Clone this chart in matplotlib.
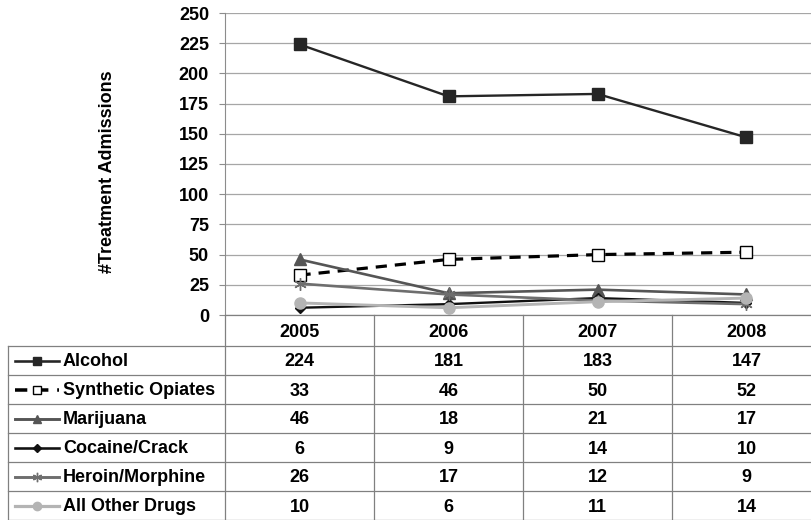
import matplotlib
matplotlib.use("Agg")
import matplotlib.pyplot as plt

plt.rcParams['font.family'] = ['Liberation Sans', 'DejaVu Sans']

years = ["2005", "2006", "2007", "2008"]
drugs = ["Alcohol", "Synthetic Opiates", "Marijuana", "Cocaine/Crack",
         "Heroin/Morphine", "All Other Drugs"]
alcohol = [224, 181, 183, 147]
synthetic = [33, 46, 50, 52]
marijuana = [46, 18, 21, 17]
cocaine = [6, 9, 14, 10]
heroin = [26, 17, 12, 9]
other = [10, 6, 11, 14]
series = [alcohol, synthetic, marijuana, cocaine, heroin, other]

# style per series: line color, linestyle, width, marker, size, face, edge
styles = [
    dict(color='#262626', ls='-', lw=1.7, marker='s', ms=8, mfc='#262626', mec='#262626'),
    dict(color='#000000', ls=(0, (3.5, 2.5)), lw=2.3, marker='s', ms=8.5, mfc='white', mec='black'),
    dict(color='#555555', ls='-', lw=1.9, marker='^', ms=8, mfc='#555555', mec='#555555'),
    dict(color='#111111', ls='-', lw=1.7, marker='D', ms=5.5, mfc='#111111', mec='#111111'),
    dict(color='#6e6e6e', ls='-', lw=1.9, marker=(6, 2, 0), ms=9, mfc='#6e6e6e', mec='#6e6e6e'),
    dict(color='#b4b4b4', ls='-', lw=2.1, marker='o', ms=8, mfc='#b4b4b4', mec='#b4b4b4'),
]

FS = 13
W, H = 811, 520
def box(x0, y0, x1, y1):
    return [x0 / W, 1 - y1 / H, (x1 - x0) / W, (y1 - y0) / H]

fig = plt.figure(figsize=(W / 100, H / 100), dpi=100)

# --- chart
ax = fig.add_axes(box(225, 13, 821, 315))
xs = range(len(years))
for vals, st in zip(series, styles):
    ax.plot(xs, vals, color=st['color'], linestyle=st['ls'], linewidth=st['lw'],
            marker=st['marker'], markersize=st['ms'], markerfacecolor=st['mfc'],
            markeredgecolor=st['mec'], markeredgewidth=1.0, clip_on=False, zorder=3)
ax.set_xlim(-0.5, 3.5)
ax.set_ylim(0, 250)
ax.set_yticks(range(0, 251, 25))
ax.set_xticks([])
ax.grid(axis='y', color='#a6a6a6', linewidth=0.9)
ax.set_axisbelow(True)
for s in ['top', 'right', 'bottom']:
    ax.spines[s].set_visible(False)
ax.spines['left'].set_color('#8c8c8c')
ax.tick_params(axis='y', length=4.5, color='#8c8c8c', pad=7, labelsize=FS)
for lab in ax.get_yticklabels():
    lab.set_fontweight('bold')
fig.text(108 / W, 1 - 172 / H, "#Treatment Admissions", rotation=90,
         ha='center', va='center', fontsize=FS, fontweight='bold')

# --- data table (pixel coordinates)
tax = fig.add_axes(box(0, 315, 821, 520))
tax.set_xlim(0, 821)
tax.set_ylim(520, 315)
tax.axis('off')
col0, colw = 225, 149
top, head_h, row_h = 315, 31, 29
body_top = top + head_h
grid_c = '#808080'
n = len(years)
for k in range(n + 1):
    tax.plot([col0 + k * colw] * 2, [top, H], color=grid_c, lw=0.9, clip_on=False)
tax.plot([8, 8], [body_top, H], color=grid_c, lw=0.9, clip_on=False)
tax.plot([col0, 821], [top, top], color=grid_c, lw=0.9, clip_on=False)
for r in range(len(drugs) + 1):
    y = body_top + r * row_h
    tax.plot([8, 821], [y, y], color=grid_c, lw=0.9, clip_on=False)

for i, yr in enumerate(years):
    tax.text(col0 + (i + 0.5) * colw, top + head_h / 2 + 2, yr, ha='center',
             va='center', fontsize=FS, fontweight='bold')

for r, (name, vals, st) in enumerate(zip(drugs, series, styles)):
    yc = body_top + (r + 0.5) * row_h
    tax.plot([15, 59], [yc, yc], color=st['color'], linestyle=st['ls'],
             linewidth=st['lw'] * 1.1, clip_on=False)
    tax.plot([37], [yc], marker=st['marker'], markersize=st['ms'] * 0.75,
             markerfacecolor=st['mfc'], markeredgecolor=st['mec'],
             markeredgewidth=1.0, clip_on=False)
    tax.text(63, yc + 1, name, ha='left', va='center', fontsize=FS, fontweight='bold')
    for i, v in enumerate(vals):
        tax.text(col0 + (i + 0.5) * colw, yc + 1.5, str(v), ha='center',
                 va='center', fontsize=FS, fontweight='bold')

fig.savefig("out.png", dpi=100)
